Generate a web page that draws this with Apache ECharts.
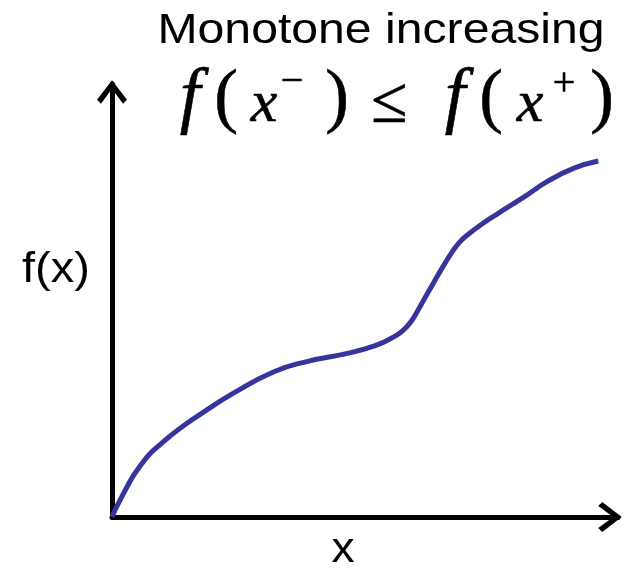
<!DOCTYPE html>
<html>
<head>
<meta charset="utf-8">
<script src="https://cdn.jsdelivr.net/npm/echarts@6/dist/echarts.min.js"></script>
<style>
  html, body { margin: 0; padding: 0; background: #fff; }
  #chart { width: 627px; height: 572px; }
</style>
</head>
<body>
<div id="chart"></div>
<script>
// Sketch of a monotone increasing function f(x), in arbitrary units (0–100 on both axes)
const xValues = [0, 0.8, 1.6, 2.9, 4.2, 5.7, 7.5, 9.5, 11.5, 14.4, 17.4, 24.0, 31.9, 38.5,
                 47.0, 52.0, 54.9, 56.9, 58.3, 59.6, 61.5, 63.5, 65.5, 67.5, 68.8, 70.2,
                 73.4, 76.7, 81.3, 85.9, 91.2, 96.1];
const fValues = [0, 2.1, 3.9, 6.8, 9.5, 12.0, 14.6, 16.7, 18.7, 21.3, 23.7, 28.6, 33.5, 35.9,
                 37.9, 39.6, 41.1, 42.5, 44.0, 46.0, 49.9, 54.0, 58.0, 61.7, 63.6, 65.1,
                 67.9, 70.4, 73.8, 77.4, 80.5, 82.2];

const titleText = 'Monotone increasing';
const xLabel = 'x';
const yLabel = 'f(x)';

const curve = xValues.map((x, i) => [x, fValues[i]]);

// open chevron arrow head, pointing up (rotated by the axis)
const chevron = 'path://M15 0 L30 19.5 L26 23.5 L15 8.5 L4 23.5 L0 19.5 Z';

const axisCommon = {
  type: 'value',
  min: 0,
  max: 100,
  axisLine: {
    show: true,
    onZero: false,
    symbol: ['none', chevron],
    symbolSize: [30, 24],
    symbolOffset: [0, -8],
    lineStyle: { color: '#000', width: 5 }
  },
  axisTick: { show: false },
  axisLabel: { show: false },
  splitLine: { show: false }
};

const sans = '"Liberation Sans", Arial, sans-serif';
const serif = '"Liberation Serif", "Times New Roman", serif';

function sansText(text, x, y, size, scaleX) {
  return {
    type: 'text', x: x, y: y, scaleX: scaleX, silent: true,
    style: { text: text, font: size + 'px ' + sans, fill: '#000', align: 'center', verticalAlign: 'middle' }
  };
}
function mathText(text, x, y, size, italic) {
  return {
    type: 'text', x: x, y: y, silent: true,
    style: {
      text: text, font: (italic ? 'italic ' : '') + size + 'px ' + serif,
      fill: '#000', stroke: '#000', lineWidth: 0.6,
      align: 'center', verticalAlign: 'middle'
    }
  };
}

// f(x⁻) ≤ f(x⁺) set piece by piece
const formula = [
  mathText('f', 190, 100, 74, true),
  mathText('(', 226, 100, 71, false),
  mathText('x', 264, 105, 60, true),
  mathText('\u2212', 292, 82, 40, false),
  mathText(')', 337, 100, 71, false),
  mathText('\u2264', 389, 105, 66, false),
  mathText('f', 455, 100, 74, true),
  mathText('(', 491, 100, 71, false),
  mathText('x', 530, 105, 60, true),
  mathText('+', 564, 84, 40, false),
  mathText(')', 602, 100, 71, false)
];

const chart = echarts.init(document.getElementById('chart'), null, { renderer: 'canvas' });
chart.setOption({
  animation: false,
  backgroundColor: '#fff',
  grid: { left: 112, right: 9, top: 84, bottom: 55, containLabel: false },
  xAxis: Object.assign({}, axisCommon),
  yAxis: Object.assign({}, axisCommon),
  series: [{
    type: 'line',
    data: curve,
    smooth: 0.5,
    showSymbol: false,
    clip: false,
    lineStyle: { color: '#35359c', width: 5 },
    z: 5
  }],
  graphic: [
    sansText(titleText, 381, 31, 43, 1.12),
    sansText(yLabel, 56, 270, 42, 1.12),
    sansText(xLabel, 343, 550, 42, 1.1)
  ].concat(formula)
});
</script>
</body>
</html>
